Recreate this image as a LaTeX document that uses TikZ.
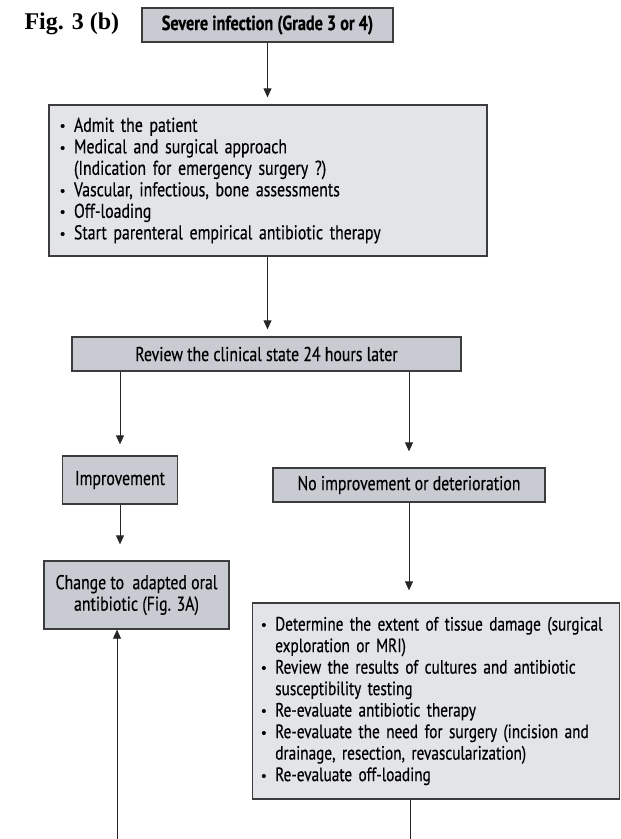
\documentclass[tikz,border=0pt]{standalone}
\usepackage{fontspec}
\setmainfont{PT Sans}[FakeStretch=0.79, FakeBold=0.4]
\newfontfamily\figfont{Liberation Serif}
\newfontfamily\bulfont{Liberation Sans}
\usetikzlibrary{arrows.meta}

\definecolor{boxfill}{RGB}{200,203,210}
\definecolor{listfill}{RGB}{226,228,232}
\definecolor{boxline}{RGB}{60,60,60}

\newcommand{\itm}{\makebox[14pt][l]{{\bulfont\fontsize{15}{15}\selectfont\textbullet}}}
\newcommand{\cnt}{\hspace*{14pt}}

\tikzset{
  stepbox/.style={draw=boxline, line width=1.3pt, fill=boxfill, inner sep=0pt,
    font=\fontsize{20}{21.5}\selectfont},
  listbox/.style={stepbox, fill=listfill, align=left, inner xsep=11pt},
  flow/.style={draw=black!85, line width=0.8pt, -{Triangle[length=9pt,width=8pt]}, shorten >=12pt},
}

\begin{document}
\begin{tikzpicture}[x=1pt, y=-1pt]
  \useasboundingbox (0,0) rectangle (621,839);

  % --- Titel ---
  \node[anchor=base west, font=\figfont\bfseries\fontsize{24}{24}\selectfont] (figlabel) at (21,29) {Fig. 3 (b)};
  \node[stepbox, minimum width=251pt, minimum height=34pt, font=\bfseries\fontsize{20.5}{22}\selectfont] (top) at (267.5,25) {Severe infection (Grade 3 or 4)};

  % --- Aufnahme ---
  \node[listbox, text width=416pt, minimum height=151pt] (admit) at (268,180.5) {%
    \itm Admit the patient\\
    \itm Medical and surgical approach\\
    \cnt (Indication for emergency surgery ?)\\
    \itm Vascular, infectious, bone assessments\\
    \itm Off-loading\\
    \itm Start parenteral empirical antibiotic therapy};

  \node[stepbox, minimum width=389pt, minimum height=34pt] (review) at (266.5,354) {Review the clinical state 24 hours later};

  % --- linker Zweig ---
  \node[stepbox, minimum width=115pt, minimum height=48pt] (impr) at (120,480) {Improvement};
  \node[stepbox, minimum width=185pt, minimum height=68pt, align=center] (oral) at (136.5,595) {Change to\ \ adapted oral\\antibiotic (Fig. 3A)};

  % --- rechter Zweig ---
  \node[stepbox, minimum width=272pt, minimum height=34pt] (noimpr) at (409,485) {No improvement or deterioration};
  \node[listbox, text width=349pt, inner xsep=9pt, minimum height=196pt,
    font=\fontsize{19.3}{21.5}\selectfont] (reeval) at (435.75,701) {%
    \itm Determine the extent of tissue damage (surgical\\
    \cnt exploration or MRI)\\
    \itm Review the results of cultures and antibiotic\\
    \cnt susceptibility testing\\
    \itm Re-evaluate antibiotic therapy\\
    \itm Re-evaluate the need for surgery (incision and\\
    \cnt drainage, resection, revascularization)\\
    \itm Re-evaluate off-loading};

  \coordinate (leftend) at (117,839);
  \coordinate (rightend) at (410,839);

  % --- Pfeile ---
  \draw[flow, shorten >=7pt] (top.south) -- (top.south |- admit.north);
  \draw[flow, shorten >=7pt] (admit.south -| top) -- (review.north -| top);
  \draw[flow, shorten >=11pt] (review.south -| impr) -- (impr.north);
  \draw[flow, shorten >=16pt] (review.south -| noimpr) -- (noimpr.north);
  \draw[flow, shorten >=16pt] (impr.south) -- (impr.south |- oral.north);
  \draw[flow] (noimpr.south) -- (noimpr.south |- reeval.north);
  \draw[flow, shorten >=0pt] (leftend) -- (leftend |- oral.south);
  \draw[draw=black!85, line width=0.8pt] (reeval.south -| rightend) -- (rightend);
\end{tikzpicture}
\end{document}
